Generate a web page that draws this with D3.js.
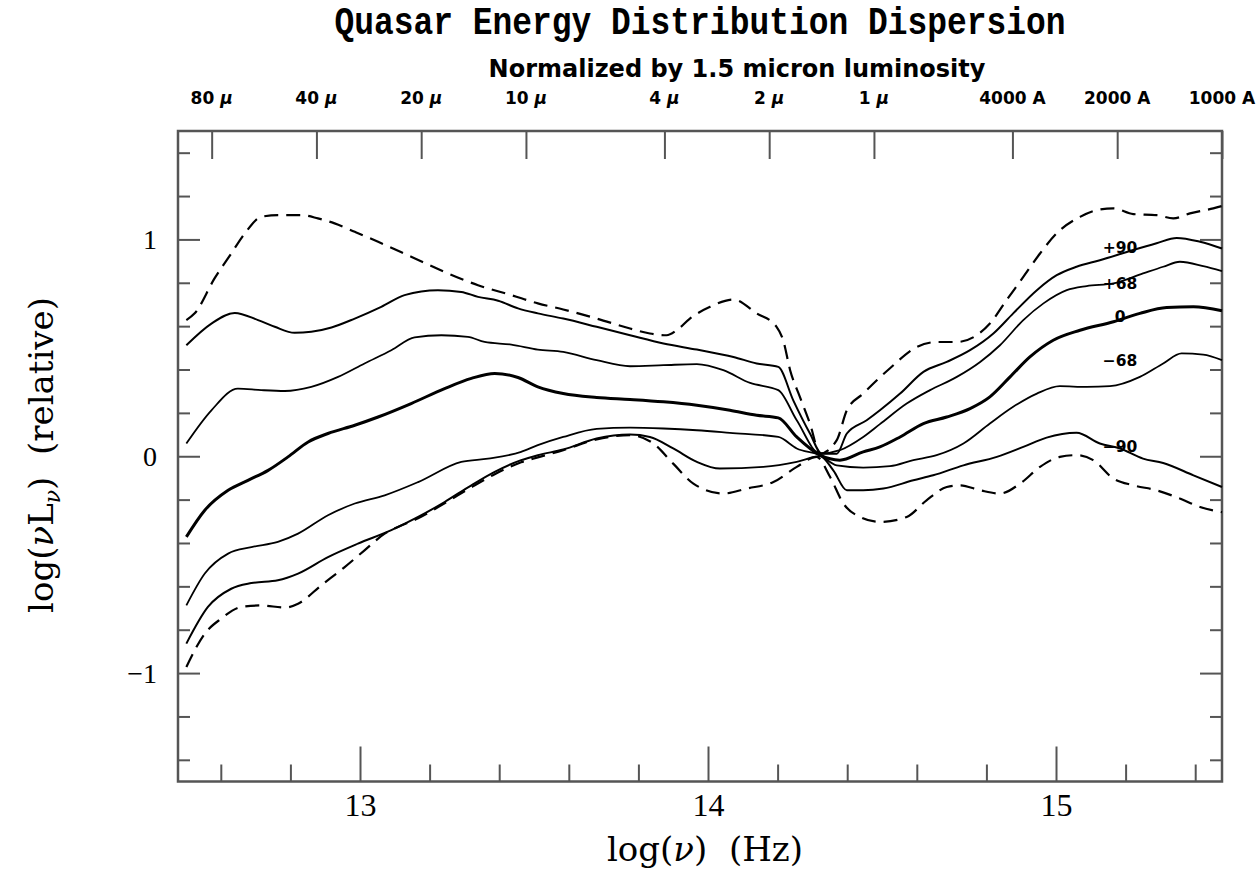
<html>
<head>
	<meta charset="utf-8">
	<script src="https://d3js.org/d3.v7.min.js"></script>
	<style>
		body { margin: 0; background: #fff; }
	</style>
</head>
<body>
	<div id="output"></div>
	<script>
		// curves: [log(nu), log(nuLnu) relative]
		var upperDashed = [[12.501,0.628],[12.525,0.659],[12.582,0.820],[12.630,0.935],[12.669,1.028],[12.716,1.104],[12.764,1.112],[12.831,1.112],[12.879,1.097],[12.927,1.074],[12.985,1.035],[13.052,0.989],[13.147,0.920],[13.243,0.850],[13.339,0.789],[13.435,0.743],[13.511,0.705],[13.584,0.677],[13.680,0.635],[13.776,0.589],[13.833,0.566],[13.881,0.558],[13.910,0.581],[13.948,0.635],[14.006,0.689],[14.073,0.723],[14.140,0.659],[14.197,0.597],[14.216,0.535],[14.236,0.397],[14.264,0.274],[14.293,0.151],[14.322,0.012],[14.370,0.074],[14.399,0.212],[14.446,0.289],[14.523,0.406],[14.600,0.504],[14.657,0.527],[14.715,0.527],[14.772,0.558],[14.810,0.612],[14.858,0.720],[14.906,0.827],[14.954,0.935],[15.002,1.028],[15.069,1.104],[15.117,1.135],[15.165,1.143],[15.222,1.117],[15.289,1.112],[15.337,1.097],[15.385,1.120],[15.452,1.143],[15.477,1.154]];
		var plus90 = [[12.501,0.512],[12.573,0.612],[12.640,0.661],[12.707,0.628],[12.755,0.597],[12.812,0.569],[12.860,0.574],[12.918,0.594],[12.985,0.635],[13.061,0.689],[13.128,0.743],[13.224,0.766],[13.291,0.758],[13.339,0.735],[13.397,0.717],[13.454,0.682],[13.511,0.659],[13.584,0.635],[13.680,0.597],[13.776,0.558],[13.872,0.520],[13.968,0.492],[14.073,0.458],[14.140,0.428],[14.202,0.412],[14.245,0.258],[14.293,0.105],[14.327,0.012],[14.370,0.012],[14.399,0.105],[14.456,0.166],[14.494,0.212],[14.552,0.289],[14.619,0.389],[14.686,0.435],[14.753,0.489],[14.820,0.566],[14.877,0.659],[14.945,0.766],[15.002,0.835],[15.059,0.874],[15.126,0.904],[15.222,0.951],[15.289,0.982],[15.347,1.007],[15.414,0.989],[15.477,0.958]];
		var plus68 = [[12.501,0.059],[12.573,0.212],[12.649,0.312],[12.716,0.305],[12.784,0.301],[12.860,0.320],[12.937,0.366],[13.013,0.428],[13.090,0.489],[13.157,0.548],[13.234,0.558],[13.310,0.551],[13.358,0.527],[13.435,0.515],[13.511,0.492],[13.584,0.481],[13.680,0.443],[13.776,0.415],[13.872,0.420],[13.968,0.425],[14.044,0.397],[14.121,0.338],[14.202,0.305],[14.255,0.166],[14.322,0.012],[14.379,0.028],[14.446,0.089],[14.494,0.148],[14.571,0.243],[14.638,0.305],[14.715,0.366],[14.782,0.435],[14.839,0.512],[14.906,0.628],[14.964,0.705],[15.031,0.766],[15.088,0.785],[15.165,0.797],[15.250,0.843],[15.308,0.874],[15.356,0.897],[15.423,0.877],[15.477,0.854]];
		var median = [[12.501,-0.372],[12.554,-0.249],[12.621,-0.157],[12.678,-0.111],[12.736,-0.065],[12.793,-0.003],[12.851,0.066],[12.908,0.105],[12.985,0.143],[13.052,0.181],[13.147,0.243],[13.243,0.312],[13.320,0.359],[13.387,0.382],[13.454,0.363],[13.511,0.320],[13.584,0.289],[13.680,0.271],[13.776,0.262],[13.872,0.251],[13.968,0.235],[14.063,0.212],[14.140,0.189],[14.202,0.177],[14.255,0.089],[14.322,0.005],[14.379,-0.018],[14.446,0.020],[14.494,0.043],[14.552,0.089],[14.619,0.151],[14.686,0.181],[14.753,0.220],[14.810,0.274],[14.868,0.366],[14.925,0.458],[14.992,0.535],[15.069,0.581],[15.165,0.620],[15.241,0.659],[15.318,0.686],[15.395,0.689],[15.477,0.671]];
		var minus68 = [[12.501,-0.688],[12.554,-0.541],[12.621,-0.449],[12.688,-0.419],[12.764,-0.395],[12.822,-0.357],[12.908,-0.272],[12.985,-0.218],[13.071,-0.180],[13.167,-0.119],[13.291,-0.026],[13.368,-0.011],[13.463,0.020],[13.511,0.051],[13.584,0.089],[13.680,0.126],[13.776,0.132],[13.872,0.128],[13.968,0.120],[14.063,0.108],[14.202,0.089],[14.255,0.036],[14.322,0.005],[14.370,-0.042],[14.446,-0.052],[14.523,-0.046],[14.590,-0.018],[14.657,0.005],[14.734,0.059],[14.810,0.151],[14.877,0.228],[14.945,0.289],[15.011,0.323],[15.088,0.320],[15.155,0.323],[15.241,0.366],[15.308,0.428],[15.361,0.474],[15.423,0.469],[15.477,0.443]];
		var minus90 = [[12.501,-0.864],[12.563,-0.695],[12.630,-0.611],[12.688,-0.585],[12.764,-0.572],[12.822,-0.541],[12.908,-0.465],[12.994,-0.403],[13.090,-0.341],[13.167,-0.280],[13.243,-0.211],[13.320,-0.134],[13.387,-0.072],[13.463,-0.018],[13.511,0.005],[13.584,0.031],[13.680,0.082],[13.776,0.100],[13.833,0.089],[13.900,0.036],[13.968,-0.026],[14.034,-0.057],[14.159,-0.049],[14.255,-0.026],[14.322,0.000],[14.360,-0.065],[14.399,-0.157],[14.446,-0.157],[14.504,-0.149],[14.590,-0.111],[14.647,-0.088],[14.734,-0.042],[14.830,-0.003],[14.906,0.043],[14.973,0.086],[15.059,0.108],[15.126,0.059],[15.184,0.036],[15.250,-0.011],[15.308,-0.031],[15.395,-0.088],[15.477,-0.142]];
		var lowerDashed = [[12.501,-0.972],[12.554,-0.818],[12.601,-0.749],[12.659,-0.695],[12.716,-0.688],[12.784,-0.698],[12.822,-0.680],[12.889,-0.595],[12.956,-0.511],[13.013,-0.434],[13.071,-0.357],[13.109,-0.326],[13.167,-0.286],[13.243,-0.217],[13.320,-0.143],[13.387,-0.083],[13.463,-0.028],[13.511,-0.005],[13.584,0.028],[13.680,0.078],[13.776,0.097],[13.843,0.059],[13.900,-0.034],[13.958,-0.126],[14.044,-0.172],[14.111,-0.149],[14.188,-0.119],[14.255,-0.049],[14.312,-0.003],[14.351,-0.096],[14.389,-0.218],[14.437,-0.280],[14.494,-0.303],[14.571,-0.280],[14.628,-0.203],[14.686,-0.142],[14.724,-0.134],[14.782,-0.157],[14.839,-0.172],[14.897,-0.126],[14.954,-0.049],[15.011,-0.003],[15.059,0.005],[15.107,-0.018],[15.165,-0.103],[15.222,-0.134],[15.289,-0.157],[15.356,-0.195],[15.414,-0.234],[15.477,-0.258]];

		// curve labels, next to the right end of each solid curve
		var curveLabels = ["+90", "+68", "0", "\u221268", "\u221290"];
		var labelNu = 15.184;
		var labelLevel = [0.964, 0.798, 0.646, 0.443, 0.046];

		// axis ticks
		var xMajor = [13, 14, 15];
		var xMinor = [12.6, 12.8, 13.2, 13.4, 13.6, 13.8, 14.2, 14.4, 14.6, 14.8, 15.2, 15.4];
		var yMajor = [-1, 0, 1];
		var yMinor = [-1.4, -1.2, -0.8, -0.6, -0.4, -0.2, 0.2, 0.4, 0.6, 0.8, 1.2, 1.4];
		// wavelength scale on top, in microns
		var waveMicrons = [80, 40, 20, 10, 4, 2, 1, 0.4, 0.2, 0.1];
		var waveText = ["80", "40", "20", "10", "4", "2", "1", "4000 A", "2000 A", "1000 A"];

		var W = 1259, H = 872;
		var pL = 178, pT = 131, pR = 1222, pB = 781.5;

		var svg = d3.select("#output").append("svg")
			.attr("width", W)
			.attr("height", H);

		var x = d3.scaleLinear().domain([12.477, 15.477]).range([pL, pR]);
		var y = d3.scaleLinear().domain([-1.5, 1.5]).range([pB, pT]);

		var tickColor = "#555";

		function styleAxis(g) {
			g.select(".domain").remove();
			g.selectAll(".tick line").attr("stroke", tickColor).attr("stroke-width", 2);
		}

		// left + right ticks (pointing inward)
		svg.append("g").attr("transform", "translate(" + pL + ",0)")
			.call(d3.axisRight(y).tickValues(yMinor).tickSize(12).tickFormat(""))
			.call(styleAxis);
		svg.append("g").attr("transform", "translate(" + pL + ",0)")
			.call(d3.axisRight(y).tickValues(yMajor).tickSize(22).tickFormat(""))
			.call(styleAxis);
		svg.append("g").attr("transform", "translate(" + pR + ",0)")
			.call(d3.axisLeft(y).tickValues(yMinor).tickSize(12).tickFormat(""))
			.call(styleAxis);
		svg.append("g").attr("transform", "translate(" + pR + ",0)")
			.call(d3.axisLeft(y).tickValues(yMajor).tickSize(22).tickFormat(""))
			.call(styleAxis);
		// bottom ticks
		svg.append("g").attr("transform", "translate(0," + pB + ")")
			.call(d3.axisTop(x).tickValues(xMinor).tickSize(17).tickFormat(""))
			.call(styleAxis);
		svg.append("g").attr("transform", "translate(0," + pB + ")")
			.call(d3.axisTop(x).tickValues(xMajor).tickSize(35).tickFormat(""))
			.call(styleAxis);

		// top wavelength ticks
		function nuOf(lam) { return Math.log10(2.998e14 / lam); }
		svg.append("g").attr("transform", "translate(0," + pT + ")")
			.call(d3.axisBottom(x).tickValues(waveMicrons.map(nuOf)).tickSize(28).tickFormat(""))
			.call(styleAxis);

		// frame
		svg.append("rect")
			.attr("x", pL)
			.attr("y", pT)
			.attr("width", pR - pL)
			.attr("height", pB - pT)
			.attr("fill", "none")
			.attr("stroke", tickColor)
			.attr("stroke-width", 2.5);

		// tick labels
		var yLab = svg.append("g").attr("transform", "translate(" + pL + ",0)")
			.call(d3.axisLeft(y).tickValues(yMajor).tickSize(0).tickPadding(21).tickFormat(d3.format("d")));
		yLab.select(".domain").remove();
		yLab.selectAll("text")
			.attr("font-family", "'Liberation Serif', serif")
			.attr("font-size", 28)
			.attr("fill", "#000");

		var xLab = svg.append("g").attr("transform", "translate(0," + pB + ")")
			.call(d3.axisBottom(x).tickValues(xMajor).tickSize(0).tickPadding(12).tickFormat(d3.format("d")));
		xLab.select(".domain").remove();
		xLab.selectAll("text")
			.attr("font-family", "'Liberation Serif', serif")
			.attr("font-size", 32)
			.attr("fill", "#000");

		// wavelength labels
		var wl = svg.append("g");
		waveMicrons.forEach(function (lam, i) {
			var t = wl.append("text")
				.attr("x", x(nuOf(lam)))
				.attr("y", 103.5)
				.attr("text-anchor", "middle")
				.attr("font-family", "'DejaVu Sans', sans-serif")
				.attr("font-weight", "bold")
				.attr("font-size", 17)
				.text(waveText[i]);
			if (lam >= 1) {
				t.append("tspan").text("\u00a0");
				t.append("tspan").attr("font-style", "italic").text("\u03bc");
			}
		});

		// curves
		var line = d3.line()
			.x(function (d) { return x(d[0]); })
			.y(function (d) { return y(d[1]); })
			.curve(d3.curveMonotoneX);

		var series = [
			{ data: upperDashed, width: 2.2, dash: "14,8" },
			{ data: plus90, width: 2, dash: null },
			{ data: plus68, width: 1.8, dash: null },
			{ data: median, width: 3, dash: null },
			{ data: minus68, width: 1.8, dash: null },
			{ data: minus90, width: 2, dash: null },
			{ data: lowerDashed, width: 2.2, dash: "14,8" }
		];
		series.forEach(function (s) {
			svg.append("path")
				.attr("d", line(s.data))
				.attr("fill", "none")
				.attr("stroke", "#000")
				.attr("stroke-width", s.width)
				.attr("stroke-linejoin", "round")
				.attr("stroke-dasharray", s.dash);
		});

		// curve labels
		curveLabels.forEach(function (lab, i) {
			svg.append("text")
				.attr("x", x(labelNu))
				.attr("y", y(labelLevel[i]) + 6)
				.attr("text-anchor", "middle")
				.attr("font-family", "'DejaVu Sans', sans-serif")
				.attr("font-size", 15.5)
				.attr("font-weight", "bold")
				.text(lab);
		});

		// titles
		svg.append("text")
			.attr("x", 700)
			.attr("y", 34)
			.attr("text-anchor", "middle")
			.attr("font-family", "'Liberation Mono', monospace")
			.attr("font-weight", "bold")
			.attr("font-size", 38)
			.attr("textLength", 731)
			.attr("lengthAdjust", "spacingAndGlyphs")
			.text("Quasar Energy Distribution Dispersion");
		svg.append("text")
			.attr("x", 737)
			.attr("y", 77)
			.attr("text-anchor", "middle")
			.attr("font-family", "'DejaVu Sans', sans-serif")
			.attr("font-weight", "bold")
			.attr("font-size", 24)
			.text("Normalized by 1.5 micron luminosity");

		// axis titles
		var xt = svg.append("text")
			.attr("x", 705)
			.attr("y", 861)
			.attr("text-anchor", "middle")
			.attr("font-family", "'DejaVu Serif', serif")
			.attr("font-size", 34);
		xt.append("tspan").text("log(");
		xt.append("tspan").attr("font-style", "italic").text("\u03bd");
		xt.append("tspan").text(")\u00a0\u00a0(Hz)");

		var yt = svg.append("text")
			.attr("transform", "translate(53,455) rotate(-90)")
			.attr("text-anchor", "middle")
			.attr("font-family", "'DejaVu Serif', serif")
			.attr("font-size", 34);
		yt.append("tspan").text("log(");
		yt.append("tspan").attr("font-style", "italic").text("\u03bd");
		yt.append("tspan").text("L");
		yt.append("tspan").attr("font-style", "italic").attr("font-size", 22).attr("dy", 7).text("\u03bd");
		yt.append("tspan").attr("dy", -7).text(")\u00a0\u00a0(relative)");
	</script>
</body>
</html>
